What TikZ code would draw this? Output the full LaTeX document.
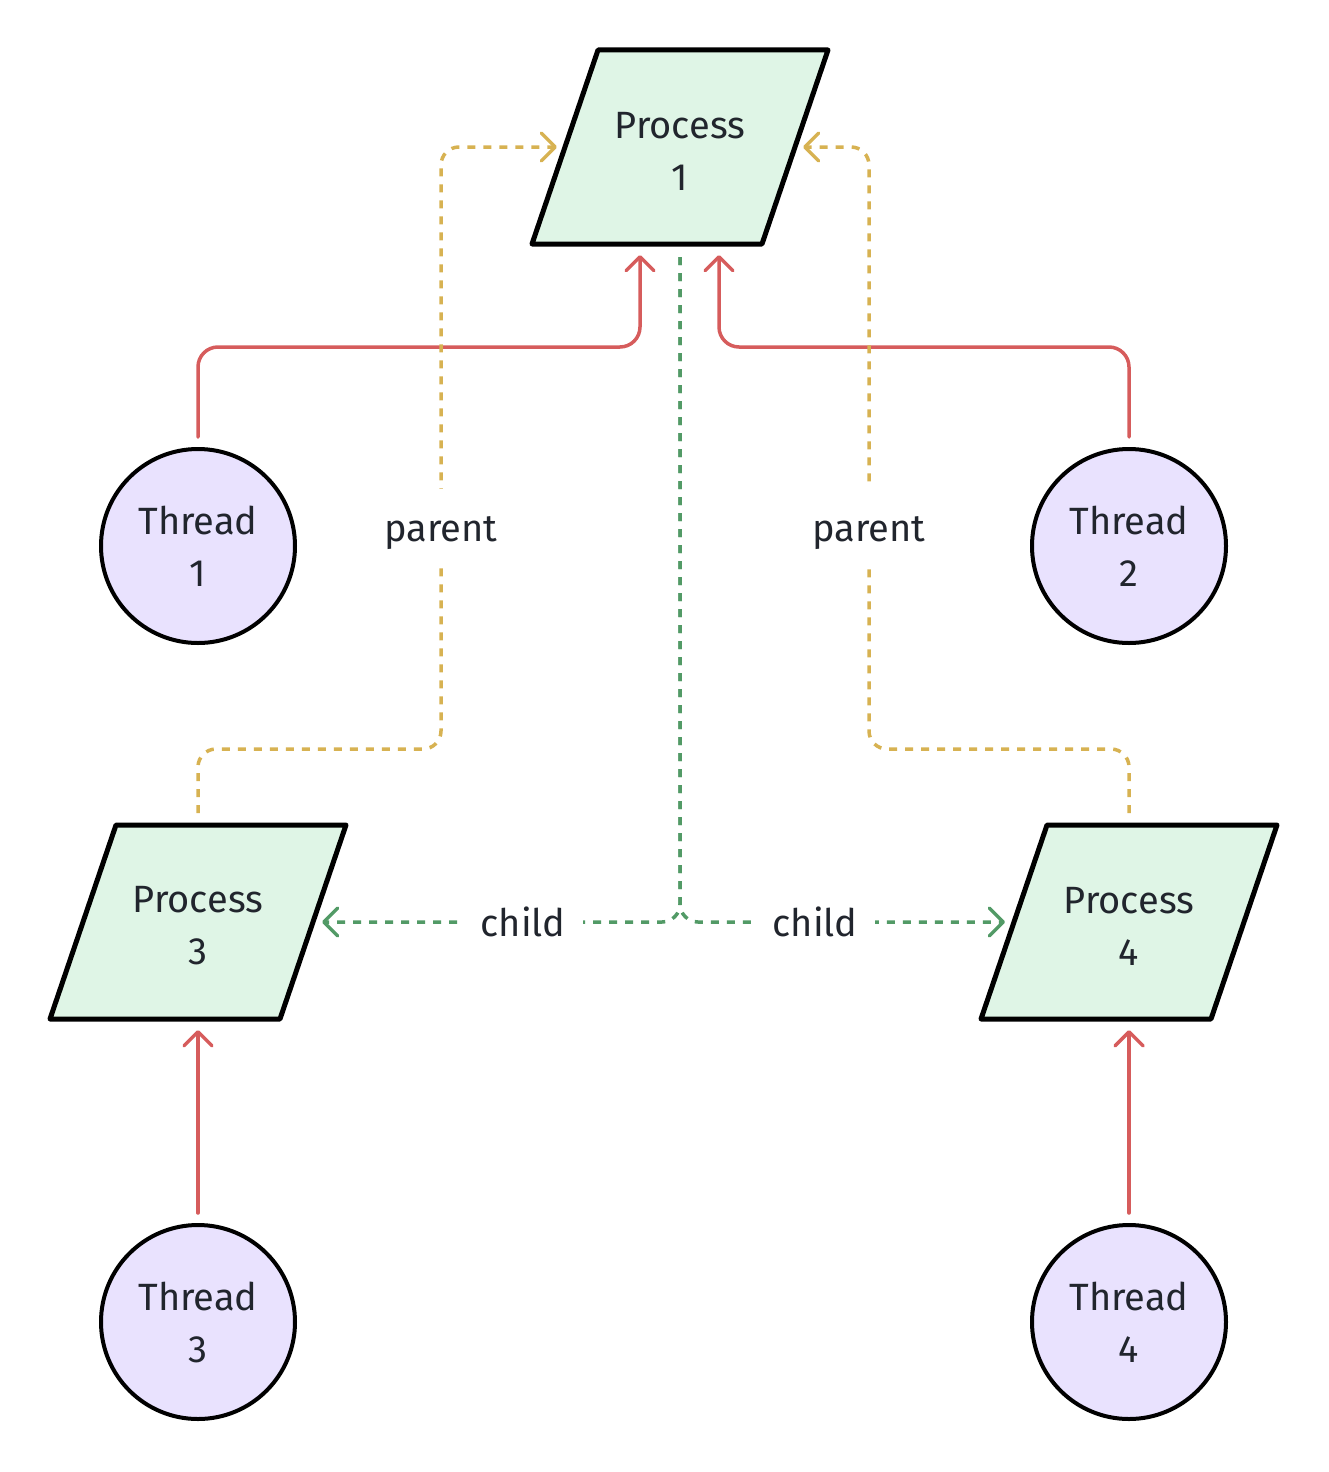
\documentclass[tikz,border=0pt]{standalone}
\usepackage{fontspec}
\setmainfont{Fira Sans}
\usetikzlibrary{arrows.meta,calc}
\definecolor{txtc}{RGB}{33,37,45}
\definecolor{procfill}{RGB}{223,245,230}
\definecolor{thrfill}{RGB}{233,226,254}
\definecolor{redc}{RGB}{214,92,92}
\definecolor{yelc}{RGB}{215,178,82}
\definecolor{grnc}{RGB}{82,154,102}
\begin{document}
\begin{tikzpicture}[x=1pt,y=-1pt,
  bigfont/.style={font=\fontsize{38}{52}\selectfont, text=txtc},
  procshape/.style={draw=black, fill=procfill, line width=5pt, line join=round},
  ptext/.style={bigfont, align=center, inner sep=0pt},
  thr/.style={circle, draw=black, fill=thrfill, line width=4pt, minimum size=194pt, inner sep=0pt, align=center, bigfont},
  arrowtip/.style={-{Straight Barb[length=14pt,width=28pt,round]}},
  redcon/.style={draw=redc, line width=3.5pt, line cap=round, rounded corners=20pt, arrowtip},
  yelcon/.style={draw=yelc, line width=3.5pt, dash pattern=on 8pt off 8pt, rounded corners=18pt, arrowtip},
  grncon/.style={draw=grnc, line width=3.5pt, dash pattern=on 8pt off 8pt, rounded corners=18pt, arrowtip},
  lbl/.style={bigfont, fill=white, inner xsep=18pt, inner ysep=17pt, text height=35pt, text depth=7pt}
]
\useasboundingbox (0,0) rectangle (1328,1472);

% process shapes
\coordinate (c1) at (680,147);
\coordinate (c3) at (198,922);
\coordinate (c4) at (1129,922);
\filldraw[procshape] ($(c1)+(-82,-97)$) -- ($(c1)+(148,-97)$) -- ($(c1)+(82,97)$) -- ($(c1)+(-148,97)$) -- cycle;
\filldraw[procshape] ($(c3)+(-82,-97)$) -- ($(c3)+(148,-97)$) -- ($(c3)+(82,97)$) -- ($(c3)+(-148,97)$) -- cycle;
\filldraw[procshape] ($(c4)+(-82,-97)$) -- ($(c4)+(148,-97)$) -- ($(c4)+(82,97)$) -- ($(c4)+(-148,97)$) -- cycle;
\node[ptext] (p1) at ($(c1)+(0,4)$) {Process\\1};
\node[ptext] (p3) at ($(c3)+(0,4)$) {Process\\3};
\node[ptext] (p4) at ($(c4)+(0,4)$) {Process\\4};

% threads
\node[thr] (t1) at (198,546) {Thread\\1};
\node[thr] (t2) at (1129,546) {Thread\\2};
\node[thr] (t3) at (198,1322) {Thread\\3};
\node[thr] (t4) at (1129,1322) {Thread\\4};

% red connectors
\draw[redcon] ($(t1.north)+(0,-10)$) |- ($(c1)+(-40,200)$) -- ($(c1)+(-40,108)$);
\draw[redcon] ($(t2.north)+(0,-10)$) |- ($(c1)+(39,200)$) -- ($(c1)+(39,108)$);
\draw[redcon] ($(t3.north)+(0,-10)$) -- ($(c3)+(0,108)$);
\draw[redcon] ($(t4.north)+(0,-10)$) -- ($(c4)+(0,108)$);

% yellow connectors
\draw[yelcon] ($(c3)+(0,-109)$) |- (441,749) |- ($(c1)+(-123,0)$);
\draw[yelcon] ($(c4)+(0,-109)$) |- (869,749) |- ($(c1)+(123,0)$);

% green connectors
\draw[grncon] ($(c1)+(0,110)$) |- ($(c3)+(124,0)$);
\draw[grncon] ($(c1)+(0,110)$) |- ($(c4)+(-124,0)$);

% labels
\node[lbl] (l1) at (441,527) {parent};
\node[lbl] (l2) at (869,527) {parent};
\node[lbl] (l3) at (523,922) {child};
\node[lbl] (l4) at (815,922) {child};
\end{tikzpicture}
\end{document}
